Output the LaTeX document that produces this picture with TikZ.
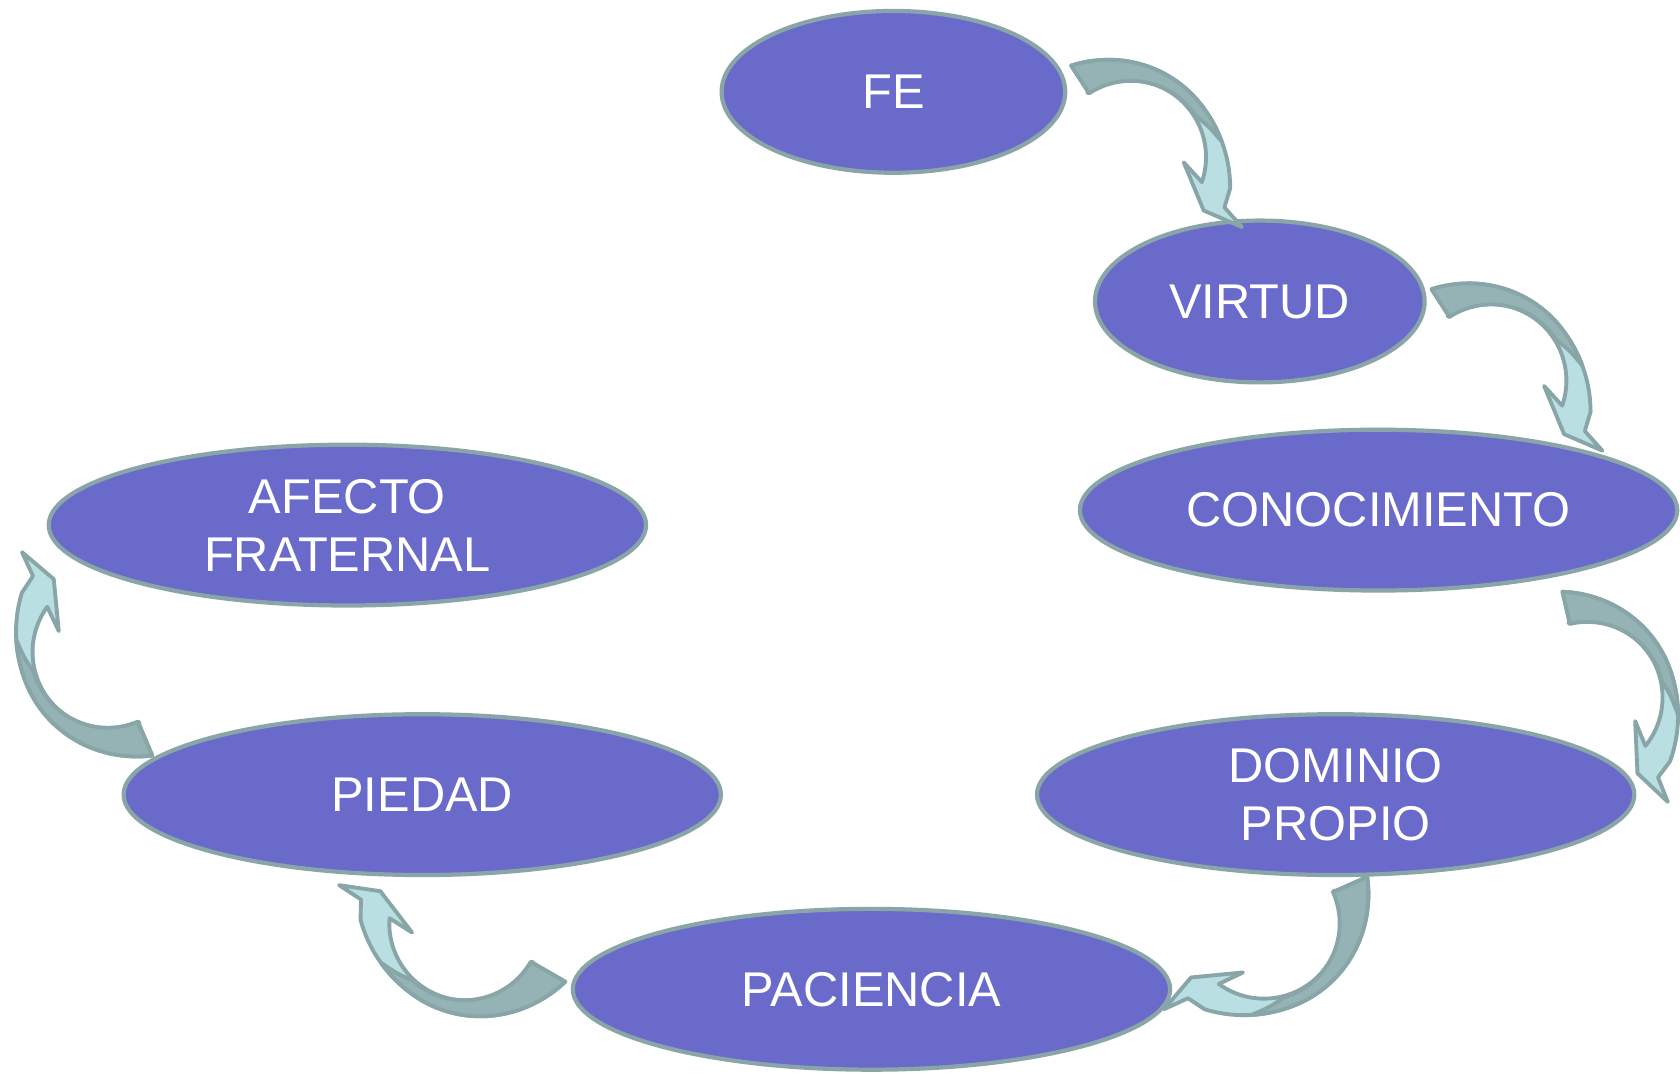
\documentclass[tikz,border=0pt]{standalone}
\usepackage{fontspec}
\setmainfont{Liberation Sans}
\usetikzlibrary{shapes.geometric, calc}

\definecolor{ovalfill}{RGB}{106,106,203}
\definecolor{ovalline}{RGB}{137,165,167}
\definecolor{ribdark}{RGB}{149,179,181}
\definecolor{riblight}{RGB}{185,223,227}
\definecolor{ribline}{RGB}{136,166,168}

% twisted ribbon arrow: #1 centre, #2 rotation, #3 tail angle
\newcommand{\ribbonarrow}[3]{%
  \begin{scope}[shift={(#1)}, rotate=#2]
    \path[ribbon, fill=riblight] (#3:77) -- plot[domain=#3:-17] (\t:{ribr(\t)})
      -- (-28:106) -- (-32:131) -- (-36:90) -- (-5:53) -- (-19:75)
      arc[start angle=-19, end angle=#3, radius=77] -- cycle;
    \path[ribbon, fill=ribdark] (#3:77) -- plot[domain=#3:10] (\t:{ribr(\t)})
      .. controls (22:84) .. (33:77)
      arc[start angle=33, end angle=#3, radius=77] -- cycle;
  \end{scope}}

\begin{document}
\begin{tikzpicture}[
    x=0.01cm, y=0.01cm,
    declare function={ribr(\t)=(\t>40)*(88+0.0032*(\t-40)^2)+(\t<=40)*(88+0.0049*(\t-40)^2);},
    % purple ovals, white caps text
    oval/.style={ellipse, draw=ovalline, fill=ovalfill, line width=1.2pt, inner sep=0pt,
      text=white, align=center, font=\fontsize{13.9}{16.5}\selectfont},
    small/.style={oval, minimum width=3.44cm, minimum height=1.62cm},
    wide/.style={oval, minimum width=5.98cm, minimum height=1.61cm},
    ribbon/.style={draw=ribline, line width=1.1pt, line join=round, variable=\t, samples=40}
]
\path[fill=white] (0,0) rectangle (1680,-1075);

%% ── Ovals ────────────────────────────────────────────────────
\node (fe) [small] at (895,-92) {FE};
\node (virtud) [small, minimum width=3.30cm] at (1262,-302) {VIRTUD};
\node (conoc) [wide] at (1381,-511) {CONOCIMIENTO};
\node (dominio) [wide] at (1338,-796) {DOMINIO\\PROPIO};
\node (paciencia) [wide] at (873,-991) {PACIENCIA};
\node (piedad) [wide] at (423,-796) {PIEDAD};
\node (afecto) [wide] at (348,-526) {AFECTO\\FRATERNAL};

%% ── Arrow centres ────────────────────────────────────────────
\coordinate (a1) at ($(fe)+(238,-66)$);
\coordinate (a2) at ($(virtud)+(232,-80)$);
\coordinate (a3) at ($(conoc)+(209,-189)$);
\coordinate (a4) at ($(dominio)+(-73,-129)$);
\coordinate (a5) at ($(paciencia)+(-408,66)$);
\coordinate (a6) at ($(piedad)+(-315,144)$);

%% ── Curved arrows ────────────────────────────────────────────
\ribbonarrow{a1}{0}{123}
\ribbonarrow{a2}{0}{123}
\ribbonarrow{a3}{-20}{123}
\ribbonarrow{a4}{-107}{131}
\ribbonarrow{a5}{195}{135}
\ribbonarrow{a6}{163}{130}

\end{tikzpicture}
\end{document}
